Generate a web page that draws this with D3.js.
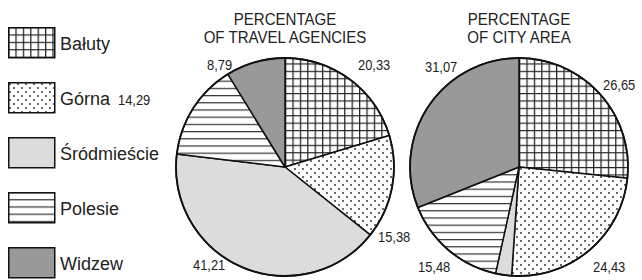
<!DOCTYPE html>
<html>
<head>
<meta charset="utf-8">
<script src="https://cdn.jsdelivr.net/npm/d3@7/dist/d3.min.js"></script>
<style>
  body { margin: 0; background: #fff; }
  svg { display: block; font-family: "Liberation Sans", Arial, sans-serif; }
</style>
</head>
<body>
<div id="chart"></div>
<script>
// districts and their shares
var districts = ["Bałuty", "Górna", "Śródmieście", "Polesie", "Widzew"];
var agencyShare = [20.33, 15.38, 41.21, 14.29, 8.79];
var areaShare = [26.65, 24.43, 2.37, 15.48, 31.07];
var agencyLabels = ["20,33", "15,38", "41,21", "14,29", "8,79"];
var areaLabels = ["26,65", "24,43", "", "15,48", "31,07"];
var fills = ["url(#grid)", "url(#dots)", "#dcdcdc", "url(#hlines)", "#999999"];

const width = 642, height = 280;

const svg = d3.select("#chart")
    .append("svg")
    .attr("width", width)
    .attr("height", height);

// patterns
const defs = svg.append("defs");

const grid = defs.append("pattern")
    .attr("id", "grid")
    .attr("patternUnits", "userSpaceOnUse")
    .attr("width", 7.4).attr("height", 7.4);
grid.append("rect").attr("width", 7.4).attr("height", 7.4).attr("fill", "#fff");
grid.append("path").attr("d", "M0,0.6H7.4M0.6,0V7.4")
    .attr("stroke", "#222").attr("stroke-width", 1.3);

const dots = defs.append("pattern")
    .attr("id", "dots")
    .attr("patternUnits", "userSpaceOnUse")
    .attr("width", 8).attr("height", 8);
dots.append("rect").attr("width", 8).attr("height", 8).attr("fill", "#fff");
dots.append("circle").attr("cx", 2).attr("cy", 2).attr("r", 0.9).attr("fill", "#222");
dots.append("circle").attr("cx", 6).attr("cy", 6).attr("r", 0.9).attr("fill", "#222");

const hlines = defs.append("pattern")
    .attr("id", "hlines")
    .attr("patternUnits", "userSpaceOnUse")
    .attr("width", 8).attr("height", 7.2);
hlines.append("rect").attr("width", 8).attr("height", 7.2).attr("fill", "#fff");
hlines.append("path").attr("d", "M0,0.6H8")
    .attr("stroke", "#333").attr("stroke-width", 1.2);

// legend
const legend = svg.selectAll(".legend")
    .data(districts)
    .enter().append("g")
    .attr("class", "legend")
    .attr("transform", (d, i) => `translate(8,${27 + i * 55})`);

legend.append("rect")
    .attr("x", 0.75).attr("y", 0.75)
    .attr("width", 46).attr("height", 30)
    .attr("fill", (d, i) => fills[i])
    .attr("stroke", "#111")
    .attr("stroke-width", 1.5);

legend.append("text")
    .attr("x", 52)
    .attr("y", 23)
    .attr("font-size", 18)
    .attr("fill", "#222")
    .text(d => d);

const r = 109;
const pie = d3.pie().sort(null).value(d => d);
const arc = d3.arc().innerRadius(0).outerRadius(r);

// squeeze text horizontally so it looks like the narrow face of the original
function narrow(sel, k) {
    sel.each(function() {
        const w = this.getComputedTextLength();
        if (w > 0) {
            d3.select(this)
                .attr("textLength", w * k)
                .attr("lengthAdjust", "spacingAndGlyphs");
        }
    });
}

function drawPie(cx, values, labels, title, labelPos) {
    const g = svg.append("g")
        .attr("transform", `translate(${cx},167)`);

    g.selectAll("path.slice")
        .data(pie(values))
        .enter().append("path")
        .attr("class", "slice")
        .attr("d", arc)
        .attr("fill", (d, i) => fills[i])
        .attr("stroke", "#111")
        .attr("stroke-width", 1.5)
        .attr("stroke-linejoin", "round");

    g.append("circle")
        .attr("r", r)
        .attr("fill", "none")
        .attr("stroke", "#111")
        .attr("stroke-width", 1.8);

    g.selectAll("text.title")
        .data(title)
        .enter().append("text")
        .attr("class", "title")
        .attr("x", 0)
        .attr("y", (d, i) => -142 + i * 18)
        .attr("text-anchor", "middle")
        .attr("font-size", 16)
        .attr("fill", "#222")
        .text(d => d)
        .call(narrow, 0.94);

    g.selectAll("text.val")
        .data(labels)
        .enter().append("text")
        .attr("class", "val")
        .attr("x", (d, i) => labelPos[i][0])
        .attr("y", (d, i) => labelPos[i][1])
        .attr("font-size", 15)
        .attr("fill", "#222")
        .text(d => d)
        .call(narrow, 0.86);
}

drawPie(285, agencyShare, agencyLabels, ["PERCENTAGE", "OF TRAVEL AGENCIES"],
    [[73, -97], [93, 75], [-92, 103], [-167, -62], [-78, -97]]);
drawPie(519, areaShare, areaLabels, ["PERCENTAGE", "OF CITY AREA"],
    [[84, -77], [74, 105], [0, 0], [-101, 105], [-94, -95]]);
</script>
</body>
</html>
